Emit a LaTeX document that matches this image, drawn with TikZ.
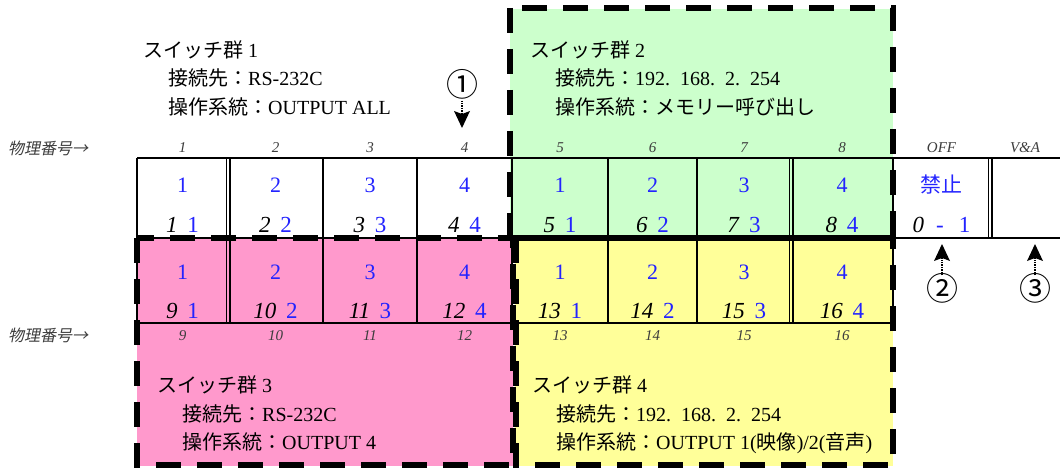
\documentclass[tikz,border=0pt]{standalone}
\usepackage{fontspec}
\setmainfont{Liberation Serif}
\newfontfamily\jp{Noto Sans CJK JP}
\newfontfamily\jpi[FakeSlant=0.2]{Noto Sans CJK JP}
\usetikzlibrary{arrows.meta}
\definecolor{gpink}{RGB}{255,153,204}
\definecolor{ggreen}{RGB}{204,255,204}
\definecolor{gyellow}{RGB}{255,255,153}
\definecolor{bnum}{RGB}{35,35,255}
\definecolor{lab}{RGB}{60,60,60}
\newcommand\J[1]{{\jp #1}}
\newcommand\pd{.\hspace{0.5em}}
\newcommand\pr[2]{\textit{#1}\hspace{0.42em}\textcolor{bnum}{#2}}
\begin{document}
\begin{tikzpicture}[x=1pt,y=-1pt,
  info/.style={anchor=west,inner sep=0pt,font=\fontsize{20}{24}\selectfont,text height=17.6pt,text depth=2.4pt},
  grp/.style={line width=5.5pt,dash pattern=on 25pt off 16pt},
  gridl/.style={line width=1.8pt},
  dbl/.style={line width=1.1pt},
  big/.style={inner sep=0pt,text=bnum,font=\fontsize{22}{24}\selectfont},
  pairn/.style={inner sep=0pt,font=\fontsize{23}{25}\selectfont},
  phys/.style={inner sep=0pt,font=\fontsize{15}{17}\selectfont\itshape,text=lab},
  physj/.style={anchor=west,inner sep=0pt,font=\jpi\fontsize{16}{18}\selectfont,text=lab},
  circ/.style={inner sep=0pt,font=\jp\fontsize{32}{34}\selectfont,text height=25pt,text depth=4pt},
  ptr/.style={line width=1.4pt,densely dotted,-{Stealth[length=17pt,width=16pt,inset=3pt,line width=0pt]}},
]
\useasboundingbox (0,0) rectangle (1060,468);
% group fills
\fill[ggreen] (510,9) rectangle (893,238);
\fill[gpink] (137,238) rectangle (513,466);
\fill[gyellow] (515,238) rectangle (893,466);
% grid
\draw[gridl] (137,158) -- (1060,158);
\draw[gridl] (137,238) -- (1060,238);
\draw[gridl] (137,323) -- (893,323);
\foreach \x in {137,323,417,512,608,697,893}
  \draw[gridl] (\x,158) -- (\x,323);
\foreach \x in {226.5,230,789.5,793}
  \draw[dbl] (\x,158) -- (\x,323);
\foreach \x in {988.5,992}
  \draw[dbl] (\x,158) -- (\x,238);
% group borders
\draw[grp] (510,8) rectangle (893,238);
\draw[grp] (137,238) rectangle (513,465);
\draw[grp] (516,238) rectangle (893,465);
% group texts
\node[info] (g1a) at (143,50) {\J{スイッチ群} 1};
\node[info] (g1b) at (168,78) {\J{接続先：}RS-232C};
\node[info] (g1c) at (168,107) {\J{操作系統：}OUTPUT ALL};
\node[info] (g2a) at (530,50) {\J{スイッチ群} 2};
\node[info] (g2b) at (555,78) {\J{接続先：}192\pd168\pd2\pd254};
\node[info] (g2c) at (555,107) {\J{操作系統：メモリー呼び出し}};
\node[info] (g3a) at (157,385) {\J{スイッチ群} 3};
\node[info] (g3b) at (182,414) {\J{接続先：}RS-232C};
\node[info] (g3c) at (182,442) {\J{操作系統：}OUTPUT 4};
\node[info] (g4a) at (532,385) {\J{スイッチ群} 4};
\node[info] (g4b) at (556,414) {\J{接続先：}192\pd168\pd2\pd254};
\node[info] (g4c) at (556,442) {\J{操作系統：}OUTPUT 1(\J{映像})/2(\J{音声})};
% physical number labels
\node[physj] (ph1) at (8,148) {物理番号→};
\node[physj] (ph2) at (8,335) {物理番号→};
\foreach \cx/\t [count=\i] in {182.5/1,275.5/2,370/3,464.5/4,560/5,652.5/6,744/7,842/8,941.5/OFF,1025/V\&A}
  \node[phys] (top\i) at (\cx,148) {\t};
\foreach \cx/\t [count=\i] in {182.5/9,275.5/10,370/11,464.5/12,560/13,652.5/14,744/15,842/16}
  \node[phys] (bot\i) at (\cx,336) {\t};
% cell contents
\foreach \cx/\b/\n [count=\i] in {182.5/1/1,275.5/2/2,370/3/3,464.5/4/4,560/1/5,652.5/2/6,744/3/7,842/4/8}{
  \node[big] (ra\i) at (\cx,185) {\b};
  \node[pairn] (rb\i) at (\cx,225) {\pr{\n}{\b}};
}
\foreach \cx/\b/\n [count=\i] in {182.5/1/9,275.5/2/10,370/3/11,464.5/4/12,560/1/13,652.5/2/14,744/3/15,842/4/16}{
  \node[big] (sa\i) at (\cx,272) {\b};
  \node[pairn] (sb\i) at (\cx,311) {\pr{\n}{\b}};
}
\node[big,font=\jp\fontsize{21}{24}\selectfont] (kin) at (941.5,185) {禁止};
\node[pairn] (off) at (941.5,225) {\textit{0}\hspace{12pt}\textcolor{bnum}{-\hspace{15pt}1}};
% pointers
\node[circ] (c1) at (462,86) {①};
\coordinate (a1) at (462,128);
\draw[ptr] (c1.south) -- (a1);
\node[circ] (c2) at (942,290) {②};
\coordinate (a2) at (942,244);
\draw[ptr] (c2.north) -- (a2);
\node[circ] (c3) at (1035,290) {③};
\coordinate (a3) at (1035,244);
\draw[ptr] (c3.north) -- (a3);
\end{tikzpicture}
\end{document}
